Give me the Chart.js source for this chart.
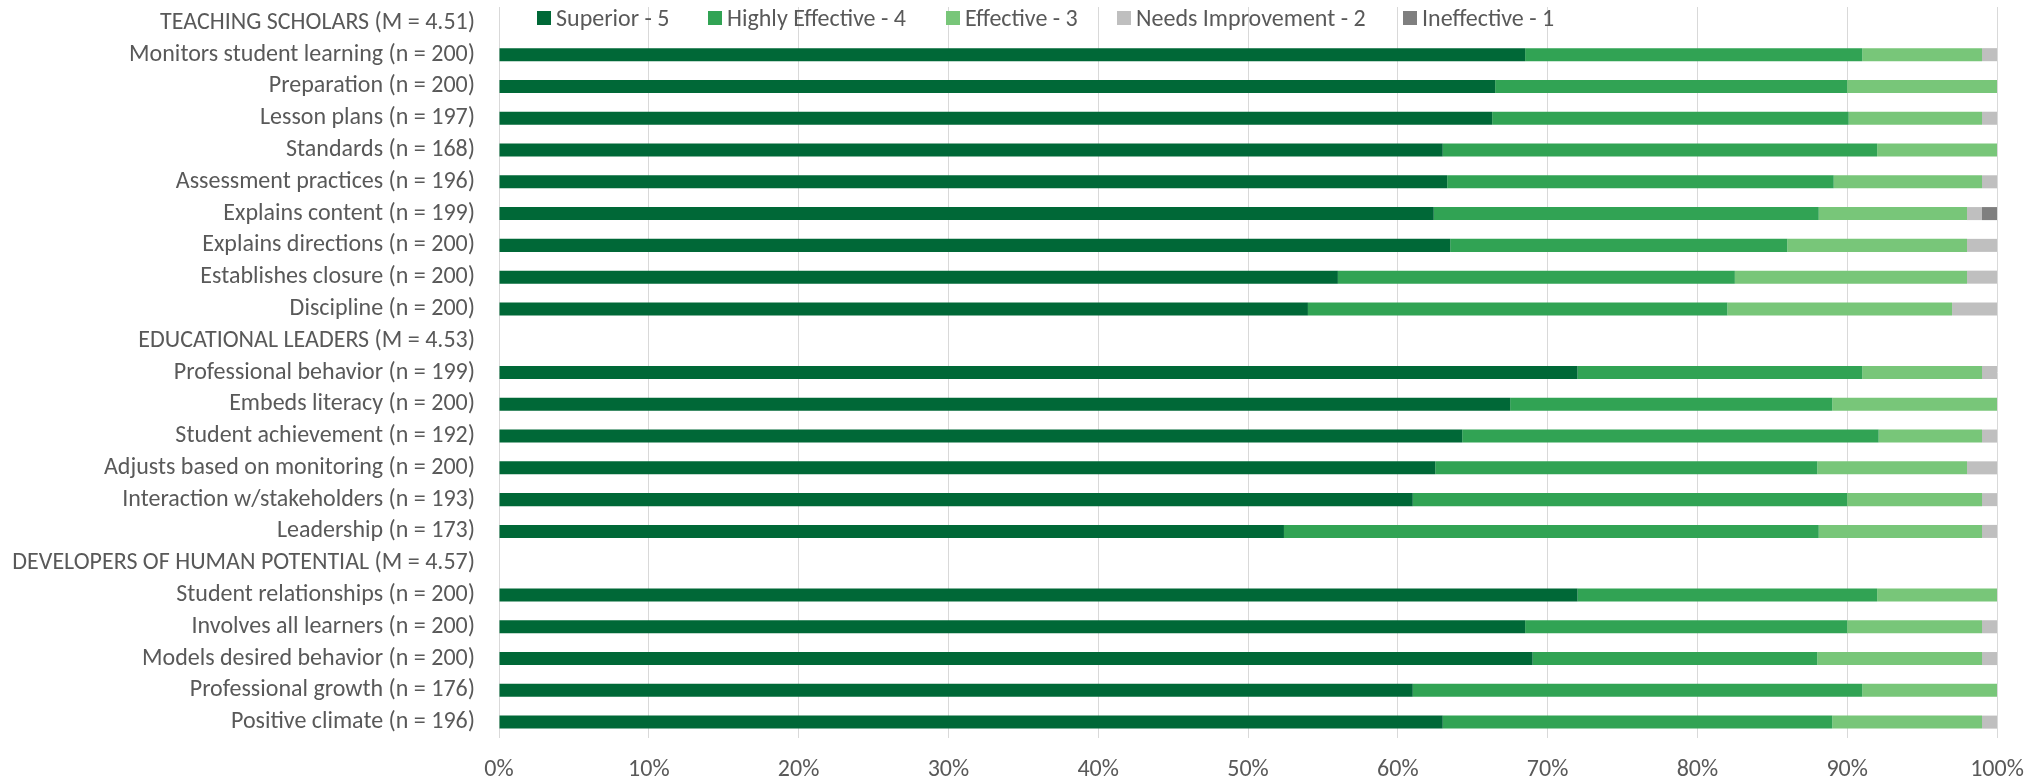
<!DOCTYPE html>
<html>
<head>
<meta charset="utf-8">
<script src="https://cdn.jsdelivr.net/npm/chart.js@4.4.0/dist/chart.umd.min.js"></script>
<style>
  html, body { margin: 0; padding: 0; background: #fff; }
  #wrap { position: relative; width: 2035px; height: 781px; }
  #legend {
    position: absolute; left: 0; top: 3px; width: 100%;
    font: 24px Carlito, Lato, sans-serif; color: #595959; line-height: 29px;
  }
  #legend .item { position: absolute; top: 0; display: flex; align-items: center; white-space: nowrap; }
  #legend .box { width: 14px; height: 14px; margin-right: 5px; }
</style>
</head>
<body>
<div id="wrap">
  <canvas id="ratingsChart"></canvas>
  <div id="legend"></div>
</div>
<script>
const categories = [
    'TEACHING SCHOLARS (M = 4.51)',
    'Monitors student learning (n = 200)',
    'Preparation (n = 200)',
    'Lesson plans (n = 197)',
    'Standards (n = 168)',
    'Assessment practices (n = 196)',
    'Explains content (n = 199)',
    'Explains directions (n = 200)',
    'Establishes closure (n = 200)',
    'Discipline (n = 200)',
    'EDUCATIONAL LEADERS (M = 4.53)',
    'Professional behavior (n = 199)',
    'Embeds literacy (n = 200)',
    'Student achievement (n = 192)',
    'Adjusts based on monitoring (n = 200)',
    'Interaction w/stakeholders (n = 193)',
    'Leadership (n = 173)',
    'DEVELOPERS OF HUMAN POTENTIAL (M = 4.57)',
    'Student relationships (n = 200)',
    'Involves all learners (n = 200)',
    'Models desired behavior (n = 200)',
    'Professional growth (n = 176)',
    'Positive climate (n = 196)'
];

// percent of ratings per level, null on the section header rows
const superior5 = [null, 68.5, 66.5, 66.3, 63.0, 63.3, 62.4, 63.5, 56.0, 54.0, null, 72.0, 67.5, 64.3, 62.5, 61.0, 52.4, null, 72.0, 68.5, 69.0, 61.0, 63.0];
const highlyEffective4 = [null, 22.5, 23.5, 23.8, 29.0, 25.8, 25.7, 22.5, 26.5, 28.0, null, 19.0, 21.5, 27.8, 25.5, 29.0, 35.7, null, 20.0, 21.5, 19.0, 30.0, 26.0];
const effective3 = [null, 8.0, 10.0, 8.9, 8.0, 9.9, 9.9, 12.0, 15.5, 15.0, null, 8.0, 11.0, 6.9, 10.0, 9.0, 10.9, null, 8.0, 9.0, 11.0, 9.0, 10.0];
const needsImprovement2 = [null, 1.0, 0, 1.0, 0, 1.0, 1.0, 2.0, 2.0, 3.0, null, 1.0, 0, 1.0, 2.0, 1.0, 1.0, null, 0, 1.0, 1.0, 0, 1.0];
const ineffective1 = [null, 0, 0, 0, 0, 0, 1.0, 0, 0, 0, null, 0, 0, 0, 0, 0, 0, null, 0, 0, 0, 0, 0];

const xTicks = [0, 10, 20, 30, 40, 50, 60, 70, 80, 90, 100];

const FONT = 'Carlito, Lato, sans-serif';
const TEXT = '#595959';
// left edge (px) of each legend entry, as in the original layout
const legendX = [537, 708, 946, 1117, 1403];

const makeSet = (label, data, color) => ({
    label,
    data,
    backgroundColor: color,
    borderWidth: 0,
    barPercentage: 0.41,
    categoryPercentage: 1
});

const ctx = document.getElementById('ratingsChart').getContext('2d');

const chart = new Chart(ctx, {
    type: 'bar',
    data: {
        labels: categories,
        datasets: [
            makeSet('Superior - 5', superior5, '#006837'),
            makeSet('Highly Effective - 4', highlyEffective4, '#31a354'),
            makeSet('Effective - 3', effective3, '#78c679'),
            makeSet('Needs Improvement - 2', needsImprovement2, '#bfbfbf'),
            makeSet('Ineffective - 1', ineffective1, '#7f7f7f')
        ]
    },
    options: {
        indexAxis: 'y',
        responsive: true,
        maintainAspectRatio: false,
        animation: false,
        layout: { padding: { top: 7, right: 38, bottom: 0, left: 0 } },
        scales: {
            x: {
                stacked: true,
                min: 0,
                max: 100,
                afterBuildTicks: (axis) => { axis.ticks = xTicks.map(v => ({ value: v })); },
                afterFit: (axis) => {
                    axis.height = 43;
                    axis.paddingLeft = 0;
                    axis.paddingRight = 0;
                },
                grid: { color: '#d9d9d9', lineWidth: 1, drawTicks: false },
                border: { display: false },
                ticks: {
                    padding: 18,
                    color: TEXT,
                    font: { family: FONT, size: 24 },
                    callback: (v) => v + '%'
                }
            },
            y: {
                stacked: true,
                afterFit: (axis) => {
                    axis.width = 499;
                    // no extra room above/below for the tick labels
                    axis.paddingTop = 0;
                    axis.paddingBottom = 0;
                },
                grid: { display: false, drawTicks: false },
                border: { display: false },
                ticks: {
                    autoSkip: false,
                    padding: 24,
                    color: TEXT,
                    font: { family: FONT, size: 24 }
                }
            }
        },
        plugins: {
            legend: { display: false },
            tooltip: { enabled: false }
        }
    }
});

// legend sits inside the plot, on the empty first row
const legendEl = document.getElementById('legend');
chart.data.datasets.forEach((ds, i) => {
    const item = document.createElement('div');
    item.className = 'item';
    item.style.left = legendX[i] + 'px';
    item.innerHTML = `<span class="box" style="background:${ds.backgroundColor}"></span>${ds.label}`;
    legendEl.appendChild(item);
});
</script>
</body>
</html>
